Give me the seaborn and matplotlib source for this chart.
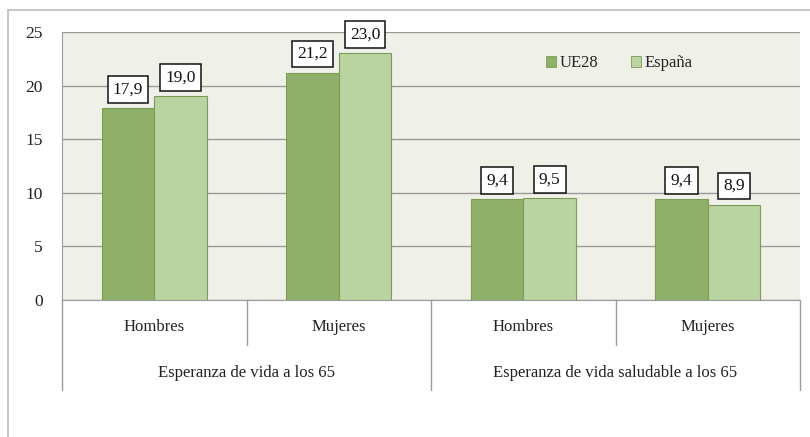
import matplotlib
matplotlib.use('Agg')

import pandas as pd
import seaborn as sns
import matplotlib.pyplot as plt
from matplotlib.lines import Line2D
import matplotlib.transforms as mtransforms

# data
grupos = ["Esperanza de vida a los 65", "Esperanza de vida saludable a los 65"]
sexos = ["Hombres", "Mujeres", "Hombres", "Mujeres"]
claves = ["EV65 Hombres", "EV65 Mujeres", "EVS65 Hombres", "EVS65 Mujeres"]
series = ["UE28", "España"]
ue28 = [17.9, 21.2, 9.4, 9.4]
espana = [19.0, 23.0, 9.5, 8.9]
yticks = [0, 5, 10, 15, 20, 25]

df = pd.DataFrame({
    "cat": claves * 2,
    "serie": [series[0]] * 4 + [series[1]] * 4,
    "valor": ue28 + espana,
})

sns.set_style("white")
plt.rcParams['font.family'] = ['Liberation Serif', 'DejaVu Serif']

fig = plt.figure(figsize=(8.1, 4.37), dpi=100)
fig.patch.set_facecolor('white')
ax = fig.add_axes([62 / 810, 1 - 300 / 437, 738 / 810, 268 / 437])
ax.set_facecolor('#eff1e9')

colores = ['#8fb068', '#b9d3a1']
sns.barplot(data=df, x="cat", y="valor", hue="serie", order=claves,
            hue_order=series, palette=colores, saturation=1, width=0.57,
            edgecolor='#7d9c55', linewidth=0.8, ax=ax, zorder=3)

ax.set_ylim(0, 25)
ax.set_xlim(-0.5, 3.5)
ax.set_yticks(yticks)
ax.set_yticklabels([str(v) for v in yticks], fontsize=12.5, color='#222222')
ax.yaxis.grid(True, color='#9a9a9a', linewidth=1.0, zorder=0)
ax.set_axisbelow(True)
ax.set_xlabel("")
ax.set_ylabel("")
ax.set_xticks([])
ax.tick_params(axis='y', length=0, pad=14)
for s in ['top', 'right']:
    ax.spines[s].set_visible(False)
ax.spines['left'].set_color('#9a9a9a')
ax.spines['bottom'].set_color('#9a9a9a')

# value boxes
for cont in ax.containers:
    for rect in cont:
        h = rect.get_height()
        ax.annotate(f"{h:.1f}".replace('.', ','),
                    (rect.get_x() + rect.get_width() / 2, h),
                    xytext=(0, 13.5), textcoords='offset points',
                    ha='center', va='center', fontsize=12.5, color='#111111',
                    bbox=dict(boxstyle='square,pad=0.3', fc='white',
                              ec='#111111', lw=1.1), zorder=5)

# two level category axis
tr = mtransforms.blended_transform_factory(ax.transData, ax.transAxes)
for xv, yb in [(-0.5, -0.336), (0.5, -0.168), (1.5, -0.336),
               (2.5, -0.168), (3.5, -0.336)]:
    ax.add_line(Line2D([xv, xv], [0, yb], transform=tr, color='#9a9a9a',
                       lw=1.0, clip_on=False))
for i, s in enumerate(sexos):
    ax.text(i, -0.10, s, transform=tr, ha='center', va='center',
            fontsize=12, color='#222222')
for j, g in enumerate(grupos):
    ax.text(0.5 + 2 * j, -0.272, g, transform=tr, ha='center', va='center',
            fontsize=12, color='#222222')

# legend
handles = [plt.Rectangle((0, 0), 1, 1, fc=c, ec='#7d9c55', lw=0.6)
           for c in colores]
ax.legend(handles, series, loc='center', bbox_to_anchor=(0.755, 0.883),
          ncol=2, frameon=False, fontsize=12, handlelength=0.6,
          handleheight=0.6, handletextpad=0.2, columnspacing=2.0)

# outer chart border
fig.add_artist(Line2D([8 / 810, 8 / 810], [0, 1 - 10 / 437],
                      transform=fig.transFigure, color='#bdbdbd', lw=1.2))
fig.add_artist(Line2D([8 / 810, 1], [1 - 10 / 437, 1 - 10 / 437],
                      transform=fig.transFigure, color='#bdbdbd', lw=1.2))

fig.savefig('out.png', dpi=100)
